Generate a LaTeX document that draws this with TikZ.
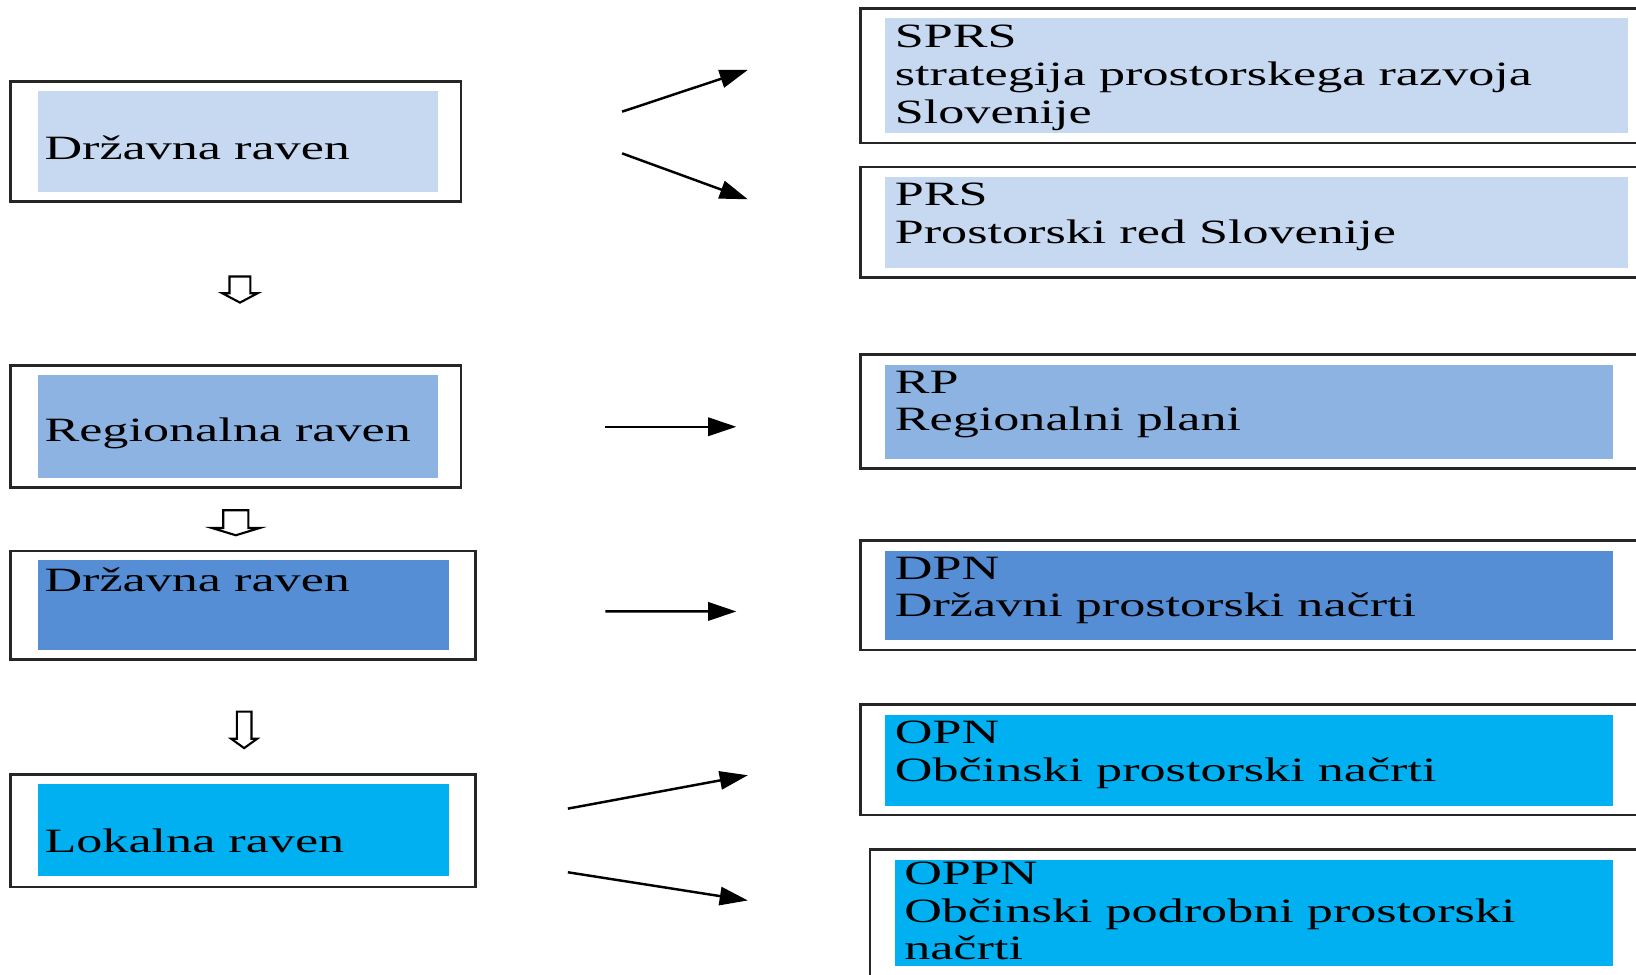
\documentclass[tikz,border=0pt]{standalone}
\usepackage{fontspec}
\setmainfont[FakeStretch=1.53]{Liberation Serif}
\usetikzlibrary{arrows.meta,calc}

\definecolor{pale}{HTML}{C6D9F1}
\definecolor{midblue}{HTML}{8DB3E2}
\definecolor{deepblue}{HTML}{558ED5}
\definecolor{sky}{HTML}{00B0F0}

\newdimen\px
\px=0.010434cm

\tikzset{
    frame/.style={draw=black!85, line width=0.75pt, inner sep=0pt},
    panel/.style={fill=#1, draw=none, inner sep=0pt},
    label/.style={inner sep=0pt, anchor=base west, align=left, font=\fontsize{9.7}{10.7}\selectfont},
    link/.style={line width=0.7pt, -{Triangle[length=8pt,width=5.2pt]}},
    hollow/.style={draw=black, line width=0.6pt, fill=white}
}

% hollow down arrow: x, top, base of head, tip, shaft half width, head half width
\newcommand{\hollowdown}[6]{%
    \draw[hollow] (#1-#5,#2) -- (#1+#5,#2) -- (#1+#5,#3) -- (#1+#6,#3) -- (#1,#4)
        -- (#1-#6,#3) -- (#1-#5,#3) -- cycle;}

\begin{document}
\begin{tikzpicture}[x=\px, y=-\px]
    \useasboundingbox (0,0) rectangle (1568,934);
    \clip (0,0) rectangle (1568,934);

    % levels
    \node[frame, minimum width=432*\px, minimum height=115*\px] at (226,135.5) (drz) {};
    \node[panel=pale, minimum width=384*\px, minimum height=97*\px] at (228,135.5) (drzp) {};
    \node[label] at (42,153) (drzt) {Državna raven};

    \node[frame, minimum width=432*\px, minimum height=117*\px] at (226,408.5) (reg) {};
    \node[panel=midblue, minimum width=384*\px, minimum height=99*\px] at (228,408.5) (regp) {};
    \node[label] at (42,423) (regt) {Regionalna raven};

    \node[frame, minimum width=446*\px, minimum height=104*\px] at (233,580) (drzb) {};
    \node[panel=deepblue, minimum width=394*\px, minimum height=86*\px] at (233,580) (drzbp) {};
    \node[label] at (42,567) (drzbt) {Državna raven};

    \node[frame, minimum width=446*\px, minimum height=108*\px] at (233,796) (lok) {};
    \node[panel=sky, minimum width=394*\px, minimum height=89*\px] at (233,795.5) (lokp) {};
    \node[label] at (42,817) (lokt) {Lokalna raven};

    \hollowdown{230}{265}{281}{290}{10}{17}
    \hollowdown{226}{489}{506}{513}{12}{23}
    \hollowdown{234}{682}{708}{717}{7}{12.5}

    % plans (label anchored at the base of its last line)
    \node[frame, minimum width=765*\px, minimum height=129*\px] at (1207.5,72.5) (sprs) {};
    \node[panel=pale, minimum width=712*\px, minimum height=110*\px] at (1204,72) (sprsp) {};
    \node[label] at (857,118) (sprst) {SPRS\\strategija prostorskega razvoja\\Slovenije};

    \node[frame, minimum width=765*\px, minimum height=106*\px] at (1207.5,213) (prs) {};
    \node[panel=pale, minimum width=712*\px, minimum height=87*\px] at (1204,213.5) (prsp) {};
    \node[label] at (857,233) (prst) {PRS\\Prostorski red Slovenije};

    \node[frame, minimum width=765*\px, minimum height=109*\px] at (1207.5,394.5) (rp) {};
    \node[panel=midblue, minimum width=698*\px, minimum height=90*\px] at (1197,395) (rpp) {};
    \node[label] at (857,413) (rpt) {RP\\Regionalni plani};

    \node[frame, minimum width=765*\px, minimum height=105*\px] at (1207.5,570.5) (dpn) {};
    \node[panel=deepblue, minimum width=698*\px, minimum height=85*\px] at (1197,570.5) (dpnp) {};
    \node[label] at (857,591) (dpnt) {DPN\\Državni prostorski načrti};

    \node[frame, minimum width=765*\px, minimum height=106*\px] at (1207.5,728) (opn) {};
    \node[panel=sky, minimum width=698*\px, minimum height=87*\px] at (1197,728.5) (opnp) {};
    \node[label] at (857,749) (opnt) {OPN\\Občinski prostorski načrti};

    \node[frame, minimum width=756*\px, minimum height=146*\px] at (1212,887) (oppn) {};
    \node[panel=sky, minimum width=688*\px, minimum height=102*\px] at (1202,875) (oppnp) {};
    \node[label] at (866,920) (oppnt) {OPPN\\Občinski podrobni prostorski\\načrti};

    % links
    \draw[link] ($(drz.east)+(153,-28.5)$) -- ($(sprs.west)+(-107,-5.5)$);
    \draw[link] ($(drz.east)+(153,11.5)$) -- ($(prs.west)+(-107,-22)$);
    \draw[link] ($(reg.east)+(137,0.5)$) -- ($(rp.west)+(-118,14.5)$);
    \draw[link] ($(drzb.east)+(123,6)$) -- ($(dpn.west)+(-118,15.5)$);
    \draw[link] ($(lok.east)+(87,-21)$) -- ($(opn.west)+(-107,15)$);
    \draw[link] ($(lok.east)+(87,40)$) -- ($(oppn.west)+(-116,-24)$);
\end{tikzpicture}
\end{document}
